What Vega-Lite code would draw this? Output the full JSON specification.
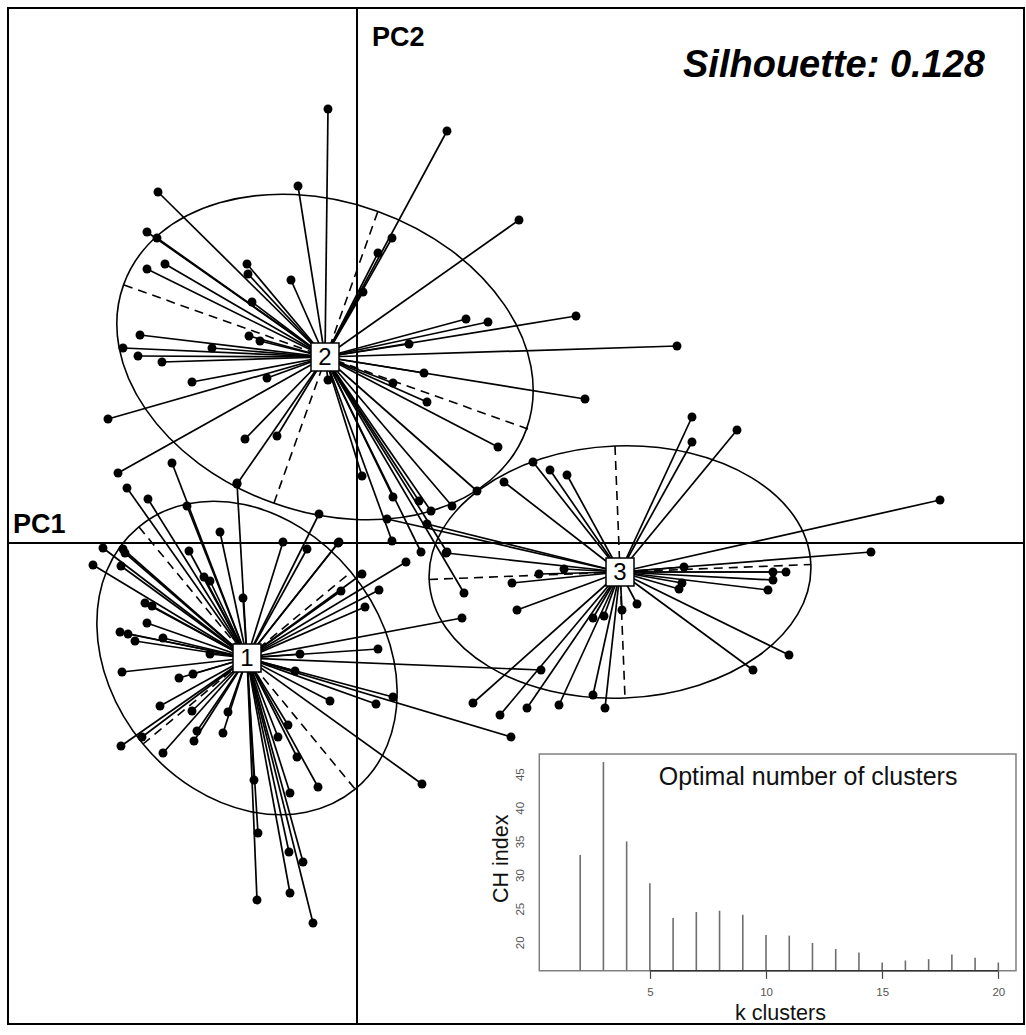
{
  "$schema": "https://vega.github.io/schema/vega-lite/v6.json",
  "width": 1016,
  "height": 1016,
  "autosize": {"type": "none"},
  "padding": {"left": 8, "top": 8, "right": 2, "bottom": 11},
  "background": "#ffffff",
  "config": {"view": {"stroke": "#000000", "strokeWidth": 2}, "font": "Liberation Sans"},
  "datasets": {
    "centers": [
      {"cl": "1", "cx": -1.10, "cy": -1.15, "a": 1.70, "b": 1.35, "tilt": -50.5},
      {"cl": "2", "cx": -0.32, "cy": 1.86, "a": 2.14, "b": 1.55, "tilt": -19.7},
      {"cl": "3", "cx": 2.63, "cy": -0.29, "a": 1.91, "b": 1.26, "tilt": 2.25}
    ],
    "axes": [
      {"cl": "1", "x_start": -2.18, "y_start": 0.16, "x_end": -0.02, "y_end": -2.46},
      {"cl": "1", "x_start": -2.14, "y_start": -2.01, "x_end": -0.06, "y_end": -0.29},
      {"cl": "2", "x_start": -2.33, "y_start": 2.58, "x_end": 1.71, "y_end": 1.14},
      {"cl": "2", "x_start": -0.83, "y_start": 0.40, "x_end": 0.21, "y_end": 3.32},
      {"cl": "3", "x_start": 0.72, "y_start": -0.365, "x_end": 4.54, "y_end": -0.215},
      {"cl": "3", "x_start": 2.58, "y_start": 0.97, "x_end": 2.68, "y_end": -1.55}
    ],
    "points": [
      {"cl": "2", "pc1": -0.29, "pc2": 4.34}, {"cl": "2", "pc1": -0.59, "pc2": 3.57},
      {"cl": "2", "pc1": -1.99, "pc2": 3.51}, {"cl": "2", "pc1": -2.10, "pc2": 3.11},
      {"cl": "2", "pc1": -2.00, "pc2": 3.05}, {"cl": "2", "pc1": -1.92, "pc2": 2.79},
      {"cl": "2", "pc1": -2.10, "pc2": 2.74}, {"cl": "2", "pc1": -1.10, "pc2": 2.79},
      {"cl": "2", "pc1": -1.09, "pc2": 2.69}, {"cl": "2", "pc1": -0.66, "pc2": 2.63},
      {"cl": "2", "pc1": -1.05, "pc2": 2.41}, {"cl": "2", "pc1": -1.08, "pc2": 2.07},
      {"cl": "2", "pc1": -0.97, "pc2": 2.02}, {"cl": "2", "pc1": -2.17, "pc2": 2.08},
      {"cl": "2", "pc1": -2.34, "pc2": 1.95}, {"cl": "2", "pc1": -2.19, "pc2": 1.87},
      {"cl": "2", "pc1": -1.45, "pc2": 1.95}, {"cl": "2", "pc1": 0.06, "pc2": 2.51},
      {"cl": "2", "pc1": 0.90, "pc2": 4.12}, {"cl": "2", "pc1": 1.62, "pc2": 3.23},
      {"cl": "2", "pc1": 0.35, "pc2": 3.05}, {"cl": "2", "pc1": 0.21, "pc2": 2.90},
      {"cl": "2", "pc1": 1.09, "pc2": 2.24}, {"cl": "2", "pc1": 1.31, "pc2": 2.21},
      {"cl": "2", "pc1": 2.19, "pc2": 2.27}, {"cl": "2", "pc1": 0.52, "pc2": 1.99},
      {"cl": "2", "pc1": 3.20, "pc2": 1.97}, {"cl": "2", "pc1": -1.95, "pc2": 1.81},
      {"cl": "2", "pc1": -1.65, "pc2": 1.61}, {"cl": "2", "pc1": -0.90, "pc2": 1.65},
      {"cl": "2", "pc1": -2.49, "pc2": 1.24}, {"cl": "2", "pc1": -1.12, "pc2": 1.04},
      {"cl": "2", "pc1": -0.80, "pc2": 1.07}, {"cl": "2", "pc1": -2.39, "pc2": 0.70},
      {"cl": "2", "pc1": -0.29, "pc2": 1.63}, {"cl": "2", "pc1": -1.20, "pc2": 0.59},
      {"cl": "2", "pc1": 0.05, "pc2": 0.67}, {"cl": "2", "pc1": 0.67, "pc2": 1.70},
      {"cl": "2", "pc1": 0.36, "pc2": 1.60}, {"cl": "2", "pc1": 0.70, "pc2": 1.41},
      {"cl": "2", "pc1": 1.41, "pc2": 0.96}, {"cl": "2", "pc1": 2.28, "pc2": 1.44},
      {"cl": "2", "pc1": 0.36, "pc2": 0.46}, {"cl": "2", "pc1": 0.62, "pc2": 0.42},
      {"cl": "2", "pc1": 0.74, "pc2": 0.32}, {"cl": "2", "pc1": 0.35, "pc2": 0.02},
      {"cl": "2", "pc1": 0.64, "pc2": -0.09}, {"cl": "2", "pc1": 0.90, "pc2": -0.09},
      {"cl": "2", "pc1": 0.95, "pc2": 0.37}, {"cl": "2", "pc1": 1.20, "pc2": 0.52},
      {"cl": "2", "pc1": 1.07, "pc2": -0.50},
      {"cl": "1", "pc1": -1.85, "pc2": 0.80}, {"cl": "1", "pc1": -2.30, "pc2": 0.55},
      {"cl": "1", "pc1": -2.09, "pc2": 0.44}, {"cl": "1", "pc1": -1.20, "pc2": 0.60},
      {"cl": "1", "pc1": -1.70, "pc2": 0.37}, {"cl": "1", "pc1": -1.37, "pc2": 0.11},
      {"cl": "1", "pc1": -0.74, "pc2": 0.01}, {"cl": "1", "pc1": -0.50, "pc2": -0.06},
      {"cl": "1", "pc1": -0.38, "pc2": 0.29}, {"cl": "1", "pc1": -0.19, "pc2": 0.00},
      {"cl": "1", "pc1": 0.49, "pc2": -0.19}, {"cl": "1", "pc1": 0.05, "pc2": -0.31},
      {"cl": "1", "pc1": 0.22, "pc2": -0.47}, {"cl": "1", "pc1": -0.16, "pc2": -0.48},
      {"cl": "1", "pc1": 0.08, "pc2": -0.64}, {"cl": "1", "pc1": 0.21, "pc2": -1.06},
      {"cl": "1", "pc1": -0.57, "pc2": -1.11}, {"cl": "1", "pc1": -0.62, "pc2": -1.28},
      {"cl": "1", "pc1": -0.27, "pc2": -1.58}, {"cl": "1", "pc1": 0.19, "pc2": -1.61},
      {"cl": "1", "pc1": 0.36, "pc2": -1.54}, {"cl": "1", "pc1": -2.54, "pc2": -0.05},
      {"cl": "1", "pc1": -2.64, "pc2": -0.22}, {"cl": "1", "pc1": -2.34, "pc2": -0.06},
      {"cl": "1", "pc1": -2.32, "pc2": -0.10}, {"cl": "1", "pc1": -2.36, "pc2": -0.23},
      {"cl": "1", "pc1": -1.68, "pc2": -0.08}, {"cl": "1", "pc1": -1.53, "pc2": -0.34},
      {"cl": "1", "pc1": -1.47, "pc2": -0.38}, {"cl": "1", "pc1": -1.14, "pc2": -0.55},
      {"cl": "1", "pc1": -2.12, "pc2": -0.60}, {"cl": "1", "pc1": -2.05, "pc2": -0.63},
      {"cl": "1", "pc1": -2.10, "pc2": -0.80}, {"cl": "1", "pc1": -2.37, "pc2": -0.89},
      {"cl": "1", "pc1": -2.29, "pc2": -0.91}, {"cl": "1", "pc1": -1.94, "pc2": -0.95},
      {"cl": "1", "pc1": -2.22, "pc2": -0.98}, {"cl": "1", "pc1": -1.47, "pc2": -1.11},
      {"cl": "1", "pc1": -2.35, "pc2": -1.29}, {"cl": "1", "pc1": -1.78, "pc2": -1.35},
      {"cl": "1", "pc1": -1.64, "pc2": -1.31}, {"cl": "1", "pc1": -1.97, "pc2": -1.63},
      {"cl": "1", "pc1": -1.65, "pc2": -1.68}, {"cl": "1", "pc1": -1.29, "pc2": -1.69},
      {"cl": "1", "pc1": -1.60, "pc2": -1.88}, {"cl": "1", "pc1": -1.63, "pc2": -1.98},
      {"cl": "1", "pc1": -1.34, "pc2": -1.90}, {"cl": "1", "pc1": -2.15, "pc2": -1.94},
      {"cl": "1", "pc1": -2.36, "pc2": -2.03}, {"cl": "1", "pc1": -1.94, "pc2": -2.10},
      {"cl": "1", "pc1": -1.03, "pc2": -2.37}, {"cl": "1", "pc1": -0.99, "pc2": -2.90},
      {"cl": "1", "pc1": -1.00, "pc2": -3.57}, {"cl": "1", "pc1": -0.67, "pc2": -2.50},
      {"cl": "1", "pc1": -0.39, "pc2": -2.44}, {"cl": "1", "pc1": -0.60, "pc2": -2.14},
      {"cl": "1", "pc1": -0.69, "pc2": -1.82}, {"cl": "1", "pc1": -0.79, "pc2": -1.94},
      {"cl": "1", "pc1": -0.68, "pc2": -3.09}, {"cl": "1", "pc1": -0.54, "pc2": -3.19},
      {"cl": "1", "pc1": -0.67, "pc2": -3.50}, {"cl": "1", "pc1": -0.44, "pc2": -3.80},
      {"cl": "1", "pc1": 0.65, "pc2": -2.41}, {"cl": "1", "pc1": 1.54, "pc2": -1.94},
      {"cl": "1", "pc1": 1.84, "pc2": -1.27}, {"cl": "1", "pc1": 1.05, "pc2": -0.75},
      {"cl": "1", "pc1": -0.18, "pc2": 0.01},
      {"cl": "3", "pc1": 3.35, "pc2": 1.26}, {"cl": "3", "pc1": 3.35, "pc2": 1.01},
      {"cl": "3", "pc1": 3.80, "pc2": 1.13}, {"cl": "3", "pc1": 5.83, "pc2": 0.43},
      {"cl": "3", "pc1": 5.14, "pc2": -0.09}, {"cl": "3", "pc1": 1.76, "pc2": 0.81},
      {"cl": "3", "pc1": 1.93, "pc2": 0.73}, {"cl": "3", "pc1": 2.10, "pc2": 0.68},
      {"cl": "3", "pc1": 1.47, "pc2": 0.61}, {"cl": "3", "pc1": 1.55, "pc2": -0.40},
      {"cl": "3", "pc1": 1.60, "pc2": -0.67}, {"cl": "3", "pc1": 1.82, "pc2": -0.31},
      {"cl": "3", "pc1": 2.07, "pc2": -0.26}, {"cl": "3", "pc1": 1.16, "pc2": -1.60},
      {"cl": "3", "pc1": 1.43, "pc2": -1.72}, {"cl": "3", "pc1": 1.70, "pc2": -1.65},
      {"cl": "3", "pc1": 2.02, "pc2": -1.62}, {"cl": "3", "pc1": 2.36, "pc2": -1.52},
      {"cl": "3", "pc1": 2.48, "pc2": -1.65}, {"cl": "3", "pc1": 2.36, "pc2": -0.75},
      {"cl": "3", "pc1": 2.47, "pc2": -0.73}, {"cl": "3", "pc1": 2.65, "pc2": -0.67},
      {"cl": "3", "pc1": 2.80, "pc2": -0.61}, {"cl": "3", "pc1": 4.32, "pc2": -1.12},
      {"cl": "3", "pc1": 3.96, "pc2": -1.27}, {"cl": "3", "pc1": 4.11, "pc2": -0.47},
      {"cl": "3", "pc1": 4.16, "pc2": -0.37}, {"cl": "3", "pc1": 4.16, "pc2": -0.29},
      {"cl": "3", "pc1": 4.29, "pc2": -0.29}, {"cl": "3", "pc1": 3.22, "pc2": -0.46},
      {"cl": "3", "pc1": 3.25, "pc2": -0.40}, {"cl": "3", "pc1": 3.27, "pc2": -0.24},
      {"cl": "3", "pc1": 0.30, "pc2": 0.24}, {"cl": "3", "pc1": 0.70, "pc2": 0.19},
      {"cl": "3", "pc1": 0.89, "pc2": -0.10}
    ],
    "ch": [
      {"k": 2, "ch": 33.0}, {"k": 3, "ch": 46.8}, {"k": 4, "ch": 35.0},
      {"k": 5, "ch": 28.8}, {"k": 6, "ch": 23.6}, {"k": 7, "ch": 24.5},
      {"k": 8, "ch": 24.7}, {"k": 9, "ch": 24.1}, {"k": 10, "ch": 21.1},
      {"k": 11, "ch": 21.0}, {"k": 12, "ch": 19.9}, {"k": 13, "ch": 19.0},
      {"k": 14, "ch": 18.5}, {"k": 15, "ch": 17.0}, {"k": 16, "ch": 17.3},
      {"k": 17, "ch": 17.5}, {"k": 18, "ch": 18.2}, {"k": 19, "ch": 17.7},
      {"k": 20, "ch": 17.0}
    ]
  },
  "layer": [
    {
      "data": {"values": [{}]},
      "mark": {"type": "rule", "stroke": "#000000", "strokeWidth": 2},
      "encoding": {
        "x": {"datum": 0, "type": "quantitative", "scale": {"domain": [-3.49, 6.67], "nice": false, "zero": false}, "axis": null}
      }
    },
    {
      "data": {"values": [{}]},
      "mark": {"type": "rule", "stroke": "#000000", "strokeWidth": 2},
      "encoding": {
        "y": {"datum": 0, "type": "quantitative", "scale": {"domain": [-4.81, 5.35], "nice": false, "zero": false}, "axis": null}
      }
    },
    {
      "data": {"name": "centers"},
      "transform": [{"filter": "datum.cl == '1'"}],
      "mark": {"type": "point", "filled": false, "stroke": "#000000", "strokeWidth": 1.6, "opacity": 1,
        "shape": "M 1 0 C 1 0.4385 0.5523 0.794 0 0.794 C -0.5523 0.794 -1 0.4385 -1 0 C -1 -0.4385 -0.5523 -0.794 0 -0.794 C 0.5523 -0.794 1 -0.4385 1 0 Z"},
      "encoding": {
        "x": {"field": "cx", "type": "quantitative", "scale": {"domain": [-3.49, 6.67], "nice": false, "zero": false}, "axis": null},
        "y": {"field": "cy", "type": "quantitative", "scale": {"domain": [-4.81, 5.35], "nice": false, "zero": false}, "axis": null},
        "size": {"field": "a", "type": "quantitative", "scale": {"type": "pow", "exponent": 2, "domain": [0, 1], "range": [0, 40000], "nice": false}, "legend": null},
        "angle": {"field": "tilt", "type": "quantitative", "scale": {"domain": [-90, 90], "range": [90, -90]}}
      }
    },
    {
      "data": {"name": "centers"},
      "transform": [{"filter": "datum.cl == '2'"}],
      "mark": {"type": "point", "filled": false, "stroke": "#000000", "strokeWidth": 1.6, "opacity": 1,
        "shape": "M 1 0 C 1 0.3999 0.5523 0.724 0 0.724 C -0.5523 0.724 -1 0.3999 -1 0 C -1 -0.3999 -0.5523 -0.724 0 -0.724 C 0.5523 -0.724 1 -0.3999 1 0 Z"},
      "encoding": {
        "x": {"field": "cx", "type": "quantitative", "scale": {"domain": [-3.49, 6.67], "nice": false, "zero": false}, "axis": null},
        "y": {"field": "cy", "type": "quantitative", "scale": {"domain": [-4.81, 5.35], "nice": false, "zero": false}, "axis": null},
        "size": {"field": "a", "type": "quantitative", "scale": {"type": "pow", "exponent": 2, "domain": [0, 1], "range": [0, 40000], "nice": false}, "legend": null},
        "angle": {"field": "tilt", "type": "quantitative", "scale": {"domain": [-90, 90], "range": [90, -90]}}
      }
    },
    {
      "data": {"name": "centers"},
      "transform": [{"filter": "datum.cl == '3'"}],
      "mark": {"type": "point", "filled": false, "stroke": "#000000", "strokeWidth": 1.6, "opacity": 1,
        "shape": "M 1 0 C 1 0.3645 0.5523 0.66 0 0.66 C -0.5523 0.66 -1 0.3645 -1 0 C -1 -0.3645 -0.5523 -0.66 0 -0.66 C 0.5523 -0.66 1 -0.3645 1 0 Z"},
      "encoding": {
        "x": {"field": "cx", "type": "quantitative", "scale": {"domain": [-3.49, 6.67], "nice": false, "zero": false}, "axis": null},
        "y": {"field": "cy", "type": "quantitative", "scale": {"domain": [-4.81, 5.35], "nice": false, "zero": false}, "axis": null},
        "size": {"field": "a", "type": "quantitative", "scale": {"type": "pow", "exponent": 2, "domain": [0, 1], "range": [0, 40000], "nice": false}, "legend": null},
        "angle": {"field": "tilt", "type": "quantitative", "scale": {"domain": [-90, 90], "range": [90, -90]}}
      }
    },
    {
      "data": {"name": "axes"},
      "mark": {"type": "rule", "stroke": "#000000", "strokeWidth": 1.6, "strokeDash": [9, 6]},
      "encoding": {
        "x": {"field": "x_start", "type": "quantitative", "scale": {"domain": [-3.49, 6.67], "nice": false, "zero": false}, "axis": null},
        "y": {"field": "y_start", "type": "quantitative", "scale": {"domain": [-4.81, 5.35], "nice": false, "zero": false}, "axis": null},
        "x2": {"field": "x_end"},
        "y2": {"field": "y_end"}
      }
    },
    {
      "data": {"name": "points"},
      "transform": [{"lookup": "cl", "from": {"data": {"name": "centers"}, "key": "cl", "fields": ["cx", "cy"]}}],
      "mark": {"type": "rule", "stroke": "#000000", "strokeWidth": 1.7},
      "encoding": {
        "x": {"field": "pc1", "type": "quantitative", "scale": {"domain": [-3.49, 6.67], "nice": false, "zero": false}, "axis": null},
        "y": {"field": "pc2", "type": "quantitative", "scale": {"domain": [-4.81, 5.35], "nice": false, "zero": false}, "axis": null},
        "x2": {"field": "cx"},
        "y2": {"field": "cy"}
      }
    },
    {
      "data": {"name": "points"},
      "mark": {"type": "point", "shape": "circle", "filled": true, "color": "#000000", "size": 80, "opacity": 1},
      "encoding": {
        "x": {"field": "pc1", "type": "quantitative", "scale": {"domain": [-3.49, 6.67], "nice": false, "zero": false}, "axis": null},
        "y": {"field": "pc2", "type": "quantitative", "scale": {"domain": [-4.81, 5.35], "nice": false, "zero": false}, "axis": null}
      }
    },
    {
      "data": {"name": "centers"},
      "mark": {"type": "point", "shape": "square", "filled": true, "fill": "#ffffff", "stroke": "#000000", "strokeWidth": 1.5, "size": 784, "opacity": 1},
      "encoding": {
        "x": {"field": "cx", "type": "quantitative", "scale": {"domain": [-3.49, 6.67], "nice": false, "zero": false}, "axis": null},
        "y": {"field": "cy", "type": "quantitative", "scale": {"domain": [-4.81, 5.35], "nice": false, "zero": false}, "axis": null}
      }
    },
    {
      "data": {"name": "centers"},
      "mark": {"type": "text", "font": "Liberation Sans", "fontSize": 24, "align": "center", "baseline": "middle", "color": "#000000", "dy": 1},
      "encoding": {
        "x": {"field": "cx", "type": "quantitative", "scale": {"domain": [-3.49, 6.67], "nice": false, "zero": false}, "axis": null},
        "y": {"field": "cy", "type": "quantitative", "scale": {"domain": [-4.81, 5.35], "nice": false, "zero": false}, "axis": null},
        "text": {"field": "cl"}
      }
    },
    {
      "data": {"values": [{}]},
      "mark": {"type": "text", "text": "PC1", "font": "Liberation Sans", "fontWeight": "bold", "fontSize": 27, "align": "left", "baseline": "alphabetic", "color": "#000000"},
      "encoding": {
        "x": {"datum": -3.44, "type": "quantitative", "scale": {"domain": [-3.49, 6.67], "nice": false, "zero": false}, "axis": null},
        "y": {"datum": 0.10, "type": "quantitative", "scale": {"domain": [-4.81, 5.35], "nice": false, "zero": false}, "axis": null}
      }
    },
    {
      "data": {"values": [{}]},
      "mark": {"type": "text", "text": "PC2", "font": "Liberation Sans", "fontWeight": "bold", "fontSize": 27, "align": "left", "baseline": "alphabetic", "color": "#000000"},
      "encoding": {
        "x": {"datum": 0.15, "type": "quantitative", "scale": {"domain": [-3.49, 6.67], "nice": false, "zero": false}, "axis": null},
        "y": {"datum": 4.97, "type": "quantitative", "scale": {"domain": [-4.81, 5.35], "nice": false, "zero": false}, "axis": null}
      }
    },
    {
      "data": {"values": [{}]},
      "mark": {"type": "text", "text": "Silhouette: 0.128", "font": "Liberation Sans", "fontWeight": "bold", "fontStyle": "italic", "fontSize": 38, "align": "right", "baseline": "alphabetic", "color": "#000000"},
      "encoding": {
        "x": {"datum": 6.28, "type": "quantitative", "scale": {"domain": [-3.49, 6.67], "nice": false, "zero": false}, "axis": null},
        "y": {"datum": 4.66, "type": "quantitative", "scale": {"domain": [-4.81, 5.35], "nice": false, "zero": false}, "axis": null}
      }
    },
    {
      "data": {"values": [{}]},
      "mark": {"type": "rect", "fill": "#ffffff", "stroke": "#808080", "strokeWidth": 1.5},
      "encoding": {
        "x": {"datum": 0.24, "type": "quantitative", "scale": {"domain": [-22.63, 21.105], "nice": false, "zero": false}, "axis": null},
        "x2": {"datum": 20.76},
        "y": {"datum": 15.78, "type": "quantitative", "scale": {"domain": [7.855, 158.92], "nice": false, "zero": false}, "axis": null},
        "y2": {"datum": 48.0}
      }
    },
    {
      "data": {"name": "ch"},
      "mark": {"type": "rule", "stroke": "#6e6e6e", "strokeWidth": 1.6},
      "encoding": {
        "x": {"field": "k", "type": "quantitative", "scale": {"domain": [-22.63, 21.105], "nice": false, "zero": false},
          "axis": {"orient": "bottom", "offset": -53.3, "zindex": 1, "values": [5, 10, 15, 20], "format": "d", "domain": false, "grid": false,
            "ticks": true, "tickSize": 7.7, "tickColor": "#444444", "tickWidth": 1.2,
            "labelFont": "Liberation Sans", "labelFontSize": 11.5, "labelColor": "#555555", "labelPadding": 8.5, "labelFlush": false, "labelOverlap": false,
            "title": "k clusters", "titleFont": "Liberation Sans", "titleFontSize": 21.5, "titleFontWeight": "normal", "titleColor": "#111111",
            "titleX": 772, "titleY": 48.5, "titleAlign": "center", "titleBaseline": "alphabetic"}},
        "y": {"field": "ch", "type": "quantitative", "scale": {"domain": [7.855, 158.92], "nice": false, "zero": false},
          "axis": {"orient": "left", "offset": -531.3, "zindex": 1, "values": [20, 25, 30, 35, 40, 45], "format": "d", "domain": false, "grid": false,
            "ticks": false, "tickSize": 0,
            "labelFont": "Liberation Sans", "labelFontSize": 11.5, "labelColor": "#555555", "labelAngle": 270, "labelAlign": "center", "labelBaseline": "bottom", "labelPadding": 14, "labelFlush": false, "labelOverlap": false,
            "title": "CH index", "titleFont": "Liberation Sans", "titleFontSize": 21.5, "titleFontWeight": "normal", "titleColor": "#111111",
            "titleAngle": 270, "titleX": -32.3, "titleY": 850.3, "titleAlign": "center", "titleBaseline": "alphabetic"}},
        "y2": {"datum": 15.78}
      }
    },
    {
      "data": {"values": [{}]},
      "mark": {"type": "rule", "stroke": "#333333", "strokeWidth": 1.5},
      "encoding": {
        "x": {"datum": 5, "type": "quantitative", "scale": {"domain": [-22.63, 21.105], "nice": false, "zero": false}, "axis": null},
        "x2": {"datum": 20},
        "y": {"datum": 15.78, "type": "quantitative", "scale": {"domain": [7.855, 158.92], "nice": false, "zero": false}, "axis": null}
      }
    },
    {
      "data": {"values": [{}]},
      "mark": {"type": "text", "text": "Optimal number of clusters", "font": "Liberation Sans", "fontSize": 25, "align": "center", "baseline": "alphabetic", "color": "#111111"},
      "encoding": {
        "x": {"datum": 11.81, "type": "quantitative", "scale": {"domain": [-22.63, 21.105], "nice": false, "zero": false}, "axis": null},
        "y": {"datum": 43.39, "type": "quantitative", "scale": {"domain": [7.855, 158.92], "nice": false, "zero": false}, "axis": null}
      }
    }
  ],
  "resolve": {"scale": {"x": "independent", "y": "independent"}, "axis": {"x": "independent", "y": "independent"}}
}
